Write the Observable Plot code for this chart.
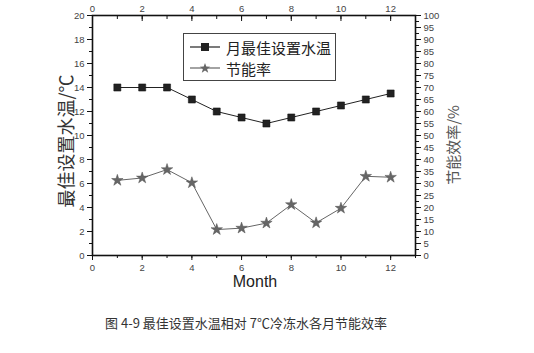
<!DOCTYPE html>
<html>
<head>
<meta charset="utf-8">
<script src="https://cdn.jsdelivr.net/npm/d3@7"></script>
<script src="https://cdn.jsdelivr.net/npm/@observablehq/plot@0.6"></script>
<style>
  html, body { margin: 0; padding: 0; background: #fff; }
  #wrap { position: relative; width: 534px; height: 353px; overflow: hidden; font-family: "Liberation Sans", Arial, sans-serif; }
  #legend { position: absolute; left: 183px; top: 33px; width: 153px; height: 48px; border: 1px solid #444; background: #fff; box-sizing: border-box; font-family: "Noto Sans CJK SC", sans-serif; font-size: 15px; color: #222; }
  #legend .row { position: absolute; left: 6px; height: 20px; display: flex; align-items: center; }
  #legend svg { margin-right: 6px; }
  .ylabL { position: absolute; left: 65px; top: 141px; transform: translate(-50%, -50%) rotate(-90deg); white-space: nowrap; font-family: "Noto Sans CJK SC", sans-serif; font-size: 18px; color: #333; }
  .ylabR { position: absolute; left: 452px; top: 145px; transform: translate(-50%, -50%) rotate(-90deg); white-space: nowrap; font-family: "Noto Sans CJK SC", sans-serif; font-size: 15px; color: #555; }
  .xlab { position: absolute; left: 255px; top: 282px; transform: translate(-50%, -50%); font-size: 16px; color: #222; }
  .caption { position: absolute; left: 246px; top: 322px; transform: translate(-50%, -50%); white-space: nowrap; font-family: "Noto Sans CJK SC", sans-serif; font-size: 13px; color: #333; }
</style>
</head>
<body>
<div id="wrap"></div>
<script>
const months = [1, 2, 3, 4, 5, 6, 7, 8, 9, 10, 11, 12];
const waterTemp = [14, 14, 14, 13, 12, 11.5, 11, 11.5, 12, 12.5, 13, 13.5];
const savingRate = [31.3, 32.3, 35.8, 30.3, 10.8, 11.4, 13.5, 21.2, 13.6, 19.7, 33.0, 32.6];
const xMajor = [0, 2, 4, 6, 8, 10, 12];
const leftMajor = [0, 2, 4, 6, 8, 10, 12, 14, 16, 18, 20];
const rightMajor = [0, 5, 10, 15, 20, 25, 30, 35, 40, 45, 50, 55, 60, 65, 70, 75, 80, 85, 90, 95, 100];

const tempData = months.map((m, i) => ({month: m, v: waterTemp[i]}));
// percent mapped onto the left scale (0–100 % ↔ 0–20)
const rateData = months.map((m, i) => ({month: m, v: savingRate[i] / 5}));

const xMinor = d3.range(0, 14, 1);
const leftMinor = d3.range(0, 21, 1);
const rightMinor = d3.range(0, 100.1, 2.5).map(d => d / 5);

const chart = Plot.plot({
  width: 534,
  height: 300,
  marginLeft: 92,
  marginRight: 119,
  marginTop: 15,
  marginBottom: 45,
  x: {domain: [0, 13]},
  y: {domain: [0, 20]},
  style: {fontFamily: "Liberation Sans, Arial, sans-serif", fontSize: "9.5px", color: "#444", background: "#fff"},
  marks: [
    // bottom axis
    Plot.axisX({anchor: "bottom", ticks: xMinor, tickSize: 3, text: null, label: null, stroke: "#111"}),
    Plot.axisX({anchor: "bottom", ticks: xMajor, tickSize: 5, tickPadding: 4, label: null, tickFormat: d3.format("d"), stroke: "#111"}),
    // top axis
    Plot.axisX({anchor: "top", ticks: xMinor, tickSize: -3, text: null, label: null, stroke: "#111"}),
    Plot.axisX({anchor: "top", ticks: xMajor, tickSize: -5, tickPadding: 9, label: null, tickFormat: d3.format("d"), stroke: "#111"}),
    // left axis
    Plot.axisY({anchor: "left", ticks: leftMinor, tickSize: 3, text: null, label: null, stroke: "#111"}),
    Plot.axisY({anchor: "left", ticks: leftMajor, tickSize: 5, tickPadding: 3, label: null, tickFormat: d3.format("d"), stroke: "#111"}),
    // right axis (percent)
    Plot.axisY({anchor: "right", ticks: rightMinor, tickSize: 3, text: null, label: null, stroke: "#111"}),
    Plot.axisY({anchor: "right", ticks: rightMajor.map(d => d / 5), tickSize: 5, tickPadding: 3, label: null, tickFormat: d => d3.format("d")(Math.round(d * 5)), stroke: "#111"}),
    Plot.frame({stroke: "#111", strokeWidth: 1.6}),
    // series 1
    Plot.line(tempData, {x: "month", y: "v", stroke: "#222", strokeWidth: 1}),
    Plot.dot(tempData, {x: "month", y: "v", symbol: "square", r: 4, fill: "#222", stroke: "#111", strokeWidth: 0.5}),
    // series 2
    Plot.line(rateData, {x: "month", y: "v", stroke: "#666", strokeWidth: 1}),
    Plot.dot(rateData, {x: "month", y: "v", symbol: "star", r: 3.6, fill: "#666", stroke: "#555", strokeWidth: 0.5})
  ]
});

const wrap = document.getElementById("wrap");
wrap.appendChild(chart);

const legend = document.createElement("div");
legend.id = "legend";
legend.innerHTML = `
  <div class="row" style="top:3px">
    <svg width="30" height="12"><line x1="0" y1="6" x2="30" y2="6" stroke="#222" stroke-width="1.2"/><rect x="11" y="2" width="8" height="8" fill="#222"/></svg>
    <span>月最佳设置水温</span>
  </div>
  <div class="row" style="top:24px">
    <svg width="30" height="12"><line x1="0" y1="6" x2="30" y2="6" stroke="#666" stroke-width="1.2"/><polygon points="15,1 16.3,4.6 20.2,4.7 17.1,7.1 18.2,10.8 15,8.6 11.8,10.8 12.9,7.1 9.8,4.7 13.7,4.6" fill="#666"/></svg>
    <span>节能率</span>
  </div>`;
wrap.appendChild(legend);

const addText = (cls, txt) => { const d = document.createElement("div"); d.className = cls; d.textContent = txt; wrap.appendChild(d); };
addText("ylabL", "最佳设置水温/℃");
addText("ylabR", "节能效率/%");
addText("xlab", "Month");
addText("caption", "图 4-9  最佳设置水温相对 7℃冷冻水各月节能效率");
</script>
</body>
</html>
